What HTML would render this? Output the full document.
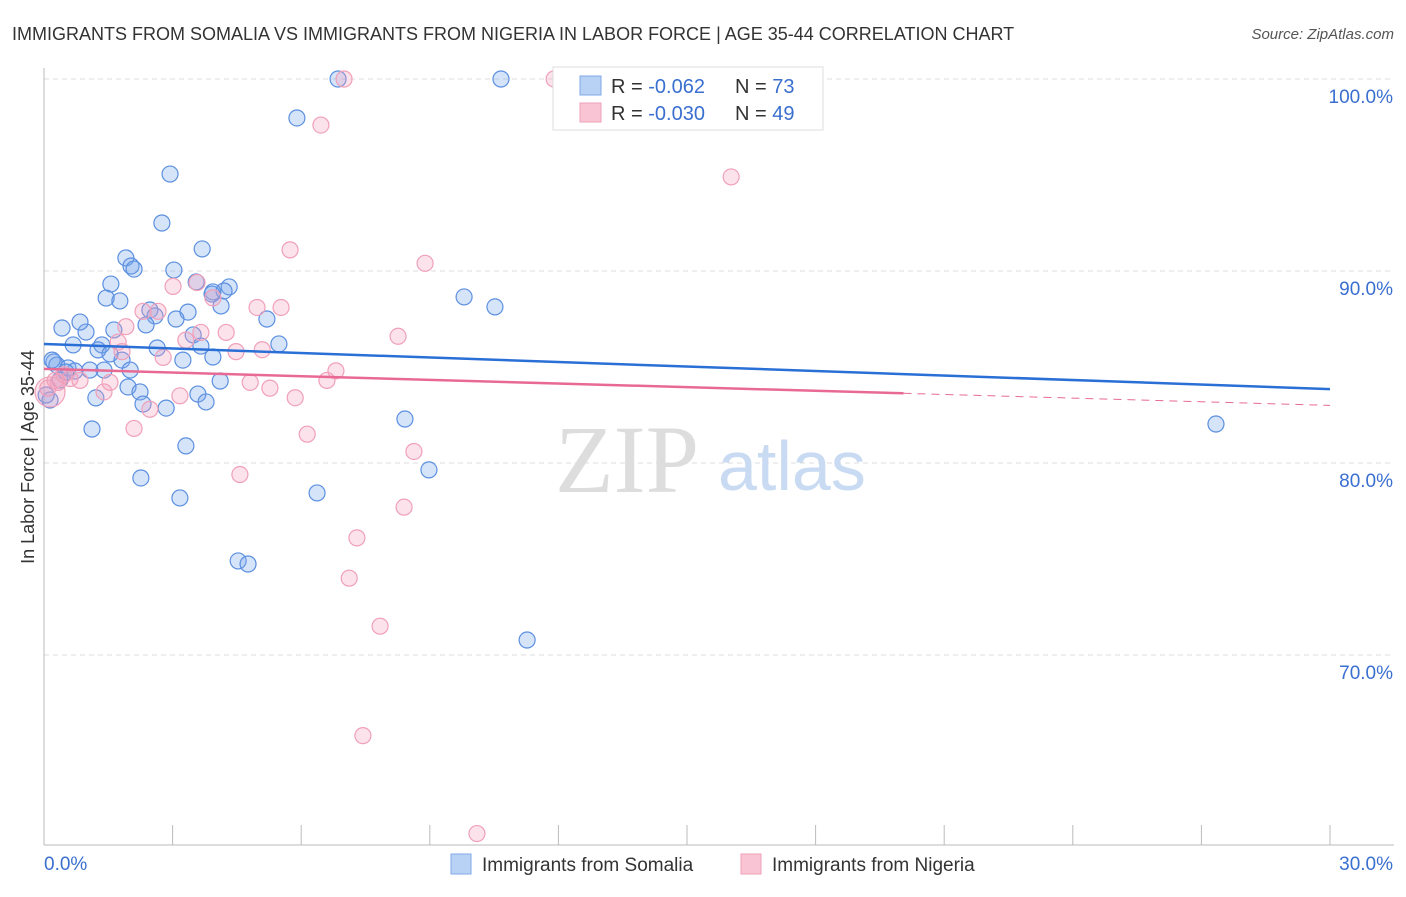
<!DOCTYPE html>
<html><head><meta charset="utf-8"><style>
body{margin:0;background:#fff;font-family:"Liberation Sans",sans-serif}
</style></head><body>
<svg id="chart" width="1406" height="892" xmlns="http://www.w3.org/2000/svg">
<text x="12" y="40" font-size="18" fill="#333">IMMIGRANTS FROM SOMALIA VS IMMIGRANTS FROM NIGERIA IN LABOR FORCE | AGE 35-44 CORRELATION CHART</text>
<text x="1394" y="39" font-size="15" fill="#555" font-style="italic" text-anchor="end">Source: ZipAtlas.com</text>
<text x="34" y="457" font-size="18" fill="#333" text-anchor="middle" transform="rotate(-90 34 457)">In Labor Force | Age 35-44</text>
<g id="grid"></g>
<g id="axes"></g>
<text x="555" y="492" font-size="96" fill="#ddd" font-family="Liberation Serif,serif">ZIP</text>
<text x="718" y="490" font-size="70" fill="#c9dbf2">atlas</text>
<g id="pts"></g>
<g id="trends"></g>
<g>
<rect x="553" y="67" width="270" height="63" fill="#fff" stroke="#ddd"/>
<rect x="580" y="76" width="21" height="19" fill="#b8d2f5" stroke="#7fa8e8"/>
<rect x="580" y="103" width="21" height="19" fill="#f9c5d5" stroke="#f0a0b8"/>
<text x="611" y="93" font-size="20" fill="#333">R = <tspan fill="#3a6fd0">-0.062</tspan><tspan x="735">N = </tspan><tspan fill="#3a6fd0">73</tspan></text>
<text x="611" y="120" font-size="20" fill="#333">R = <tspan fill="#3a6fd0">-0.030</tspan><tspan x="735">N = </tspan><tspan fill="#3a6fd0">49</tspan></text>
</g>
<g>
<rect x="451" y="854" width="20" height="20" fill="#b8d2f5" stroke="#7fa8e8"/>
<text x="482" y="871" font-size="19" fill="#333">Immigrants from Somalia</text>
<rect x="741" y="854" width="20" height="20" fill="#f9c5d5" stroke="#f0a0b8"/>
<text x="772" y="871" font-size="19" fill="#333">Immigrants from Nigeria</text>
</g>
</svg>
<script>
const yTicks=[100,90,80,70];
const yTickLabels=["100.0%","90.0%","80.0%","70.0%"];
const xTicks=[0,3,6,9,12,15,18,21,24,27,30];
const xTickLabels=["0.0%","30.0%"];
const somaliaX=[6.86,10.66,5.9,2.94,2.75,3.69,1.91,2.03,2.1,3.03,1.56,1.45,1.77,3.55,4.32,4.2,3.94,4.13,9.8,10.52,2.47,2.59,3.36,3.08,2.38,5.2,0.42,0.98,1.63,0.84,1.35,0.68,1.26,2.64,3.48,3.66,5.48,0.23,0.3,0.56,0.72,1.4,1.82,3.24,3.94,1.54,0.37,1.96,2.24,4.11,3.59,1.21,3.78,2.31,2.85,8.42,1.12,27.34,3.31,8.98,2.26,3.17,6.37,4.53,4.76,11.27,0.14,0.05,0.19,1.07,2.01,0.51,3.92];
const somaliaY=[100,100,97.97,95.05,92.5,91.15,90.68,90.26,90.1,90.05,89.32,88.59,88.44,89.43,89.17,88.96,88.91,88.18,88.65,88.13,87.97,87.66,87.86,87.5,87.19,87.5,87.03,86.82,86.93,87.34,86.15,86.15,85.89,85.99,86.67,86.09,86.2,85.26,85.1,84.95,84.79,84.84,85.36,85.36,85.52,85.68,84.32,83.96,83.7,84.27,83.59,83.39,83.18,83.07,82.86,82.29,81.77,82.03,80.89,79.64,79.22,78.18,78.44,74.9,74.74,70.78,83.28,83.54,85.36,84.84,84.84,84.74,88.8];
const nigeriaX=[7.0,11.9,6.46,16.03,5.74,8.89,3.57,3.01,3.94,4.97,5.53,2.31,2.66,1.91,3.31,3.66,4.25,8.26,1.73,1.82,2.78,4.48,5.09,6.81,6.6,0.61,0.33,0.84,1.54,1.4,4.81,5.27,5.86,3.17,2.47,2.1,6.14,8.63,4.57,8.4,7.3,7.12,7.84,7.44,10.1,0.26,0.47,0.09,0.14];
const nigeriaY=[100,100,97.6,94.9,91.1,90.4,89.4,89.2,88.6,88.1,88.1,87.9,87.9,87.1,86.4,86.8,86.8,86.6,86.3,85.8,85.5,85.8,85.9,84.8,84.3,84.4,84.2,84.3,84.2,83.7,84.2,83.9,83.4,83.5,82.8,81.8,81.5,80.6,79.4,77.7,76.1,74.0,71.5,65.8,60.7,84.3,84.6,83.9,83.7];
const somaliaTrend=[86.2,83.85];
const nigeriaTrend=[84.9,83.0];
const NS="http://www.w3.org/2000/svg";
const X0=44,X1=1330,Y100=79,PX=19.2;
function sx(v){return X0+(v/30)*(X1-X0);}
function sy(v){return Y100+(100-v)*PX;}
function mk(tag,attrs,parent){const e=document.createElementNS(NS,tag);for(const k in attrs)e.setAttribute(k,attrs[k]);parent.appendChild(e);return e;}
const grid=document.getElementById('grid'),axes=document.getElementById('axes');
yTicks.forEach((t,i)=>{
 const l=mk('line',{x1:X0,x2:1394,y1:sy(t),y2:sy(t),stroke:'#ddd','stroke-dasharray':'5,4'},grid);
 
 
 const tx=mk('text',{x:1393,y:sy(t)+24,'font-size':19,fill:'#3a6fd0','text-anchor':'end'},grid);
 tx.textContent=yTickLabels[i];
 
 
});
const ya=mk('line',{x1:X0,x2:X0,y1:68,y2:845,stroke:'#bbb'},axes);


const xa=mk('line',{x1:X0,x2:1394,y1:845,y2:845,stroke:'#bbb'},axes);


xTicks.forEach(t=>{
 const l=mk('line',{x1:sx(t),x2:sx(t),y1:825,y2:845,stroke:'#bbb'},axes);
 
 
});
const xl0=mk('text',{x:44,y:870,'font-size':19,fill:'#3a6fd0'},axes);xl0.textContent=xTickLabels[0];


const xl1=mk('text',{x:1393,y:870,'font-size':19,fill:'#3a6fd0','text-anchor':'end'},axes);xl1.textContent=xTickLabels[1];


const pts=document.getElementById('pts');
somaliaX.forEach((v,i)=>{
 const c=mk('circle',{cx:sx(v),cy:sy(somaliaY[i]),r:8,fill:'rgba(120,165,235,0.3)',stroke:'#5b8fe0','stroke-width':1.2},pts);
 
 
});
nigeriaX.forEach((v,i)=>{
 const big=i===nigeriaX.length-1;
 const c=mk('circle',{cx:sx(v),cy:sy(nigeriaY[i]),r:big?15:8,fill:'rgba(245,160,190,0.3)',stroke:'#f0a0b8','stroke-width':1.2},pts);
 
 
});
const tr=document.getElementById('trends');
const bl=mk('line',{x1:sx(0),y1:sy(somaliaTrend[0]),x2:sx(30),y2:sy(somaliaTrend[1]),stroke:'#2a6fd6','stroke-width':2.5},tr);


const xs=20.05,ym=nigeriaTrend[0]+(nigeriaTrend[1]-nigeriaTrend[0])*xs/30;
const pl=mk('line',{x1:sx(0),y1:sy(nigeriaTrend[0]),x2:sx(xs),y2:sy(ym),stroke:'#e86a94','stroke-width':2.5},tr);


const pd=mk('line',{x1:sx(xs),y1:sy(ym),x2:sx(30),y2:sy(nigeriaTrend[1]),stroke:'#e86a94','stroke-width':1,'stroke-dasharray':'8,6'},tr);


</script>
</body></html>
